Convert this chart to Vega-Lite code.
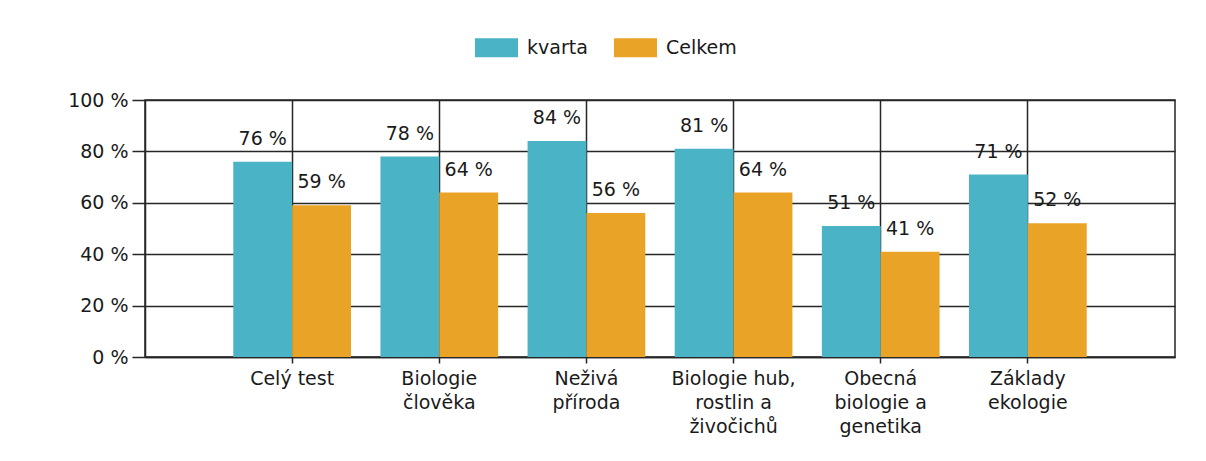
{
  "$schema": "https://vega.github.io/schema/vega-lite/v6.json",
  "width": 1030,
  "height": 257,
  "autosize": {"type": "none"},
  "padding": {"left": 145, "top": 100, "right": 31, "bottom": 104},
  "background": "white",
  "config": {
    "font": "DejaVu Sans",
    "view": {"stroke": "#262626", "strokeWidth": 1.5},
    "axis": {"labelFont": "DejaVu Sans", "labelFontSize": 19, "labelColor": "#1a1a1a", "domainColor": "#262626", "tickColor": "#262626", "gridColor": "#262626", "gridWidth": 1.5, "domainWidth": 1.5, "tickWidth": 1.5, "gridOpacity": 1}
  },
  "data": {
    "values": [
      {"oblast": "Celý test", "skupina": "kvarta", "hodnota": 76},
      {"oblast": "Celý test", "skupina": "Celkem", "hodnota": 59},
      {"oblast": "Biologie|člověka", "skupina": "kvarta", "hodnota": 78},
      {"oblast": "Biologie|člověka", "skupina": "Celkem", "hodnota": 64},
      {"oblast": "Neživá|příroda", "skupina": "kvarta", "hodnota": 84},
      {"oblast": "Neživá|příroda", "skupina": "Celkem", "hodnota": 56},
      {"oblast": "Biologie hub,|rostlin a|živočichů", "skupina": "kvarta", "hodnota": 81},
      {"oblast": "Biologie hub,|rostlin a|živočichů", "skupina": "Celkem", "hodnota": 64},
      {"oblast": "Obecná|biologie a|genetika", "skupina": "kvarta", "hodnota": 51},
      {"oblast": "Obecná|biologie a|genetika", "skupina": "Celkem", "hodnota": 41},
      {"oblast": "Základy|ekologie", "skupina": "kvarta", "hodnota": 71},
      {"oblast": "Základy|ekologie", "skupina": "Celkem", "hodnota": 52}
    ]
  },
  "encoding": {
    "x": {
      "field": "oblast", "type": "nominal", "sort": null, "title": null,
      "scale": {"paddingInner": 0.2, "paddingOuter": 0.6},
      "axis": {"grid": true, "labelAngle": 0, "labelExpr": "split(datum.label, '|')", "labelLineHeight": 24, "labelPadding": 6, "tickSize": 6, "labelBaseline": "top"}
    },
    "xOffset": {"field": "skupina", "type": "nominal", "sort": ["kvarta", "Celkem"], "scale": {"paddingInner": 0, "paddingOuter": 0}},
    "y": {
      "field": "hodnota", "type": "quantitative", "title": null,
      "scale": {"domain": [0, 100], "nice": false},
      "axis": {"values": [0, 20, 40, 60, 80, 100], "labelExpr": "datum.value + ' %'", "tickSize": 13, "labelPadding": 4, "grid": true}
    }
  },
  "layer": [
    {
      "mark": {"type": "bar"},
      "encoding": {
        "color": {
          "field": "skupina", "type": "nominal",
          "scale": {"domain": ["kvarta", "Celkem"], "range": ["#4BB3C6", "#E9A326"]},
          "legend": {
            "title": null, "orient": "none", "direction": "horizontal",
            "legendX": 330, "legendY": -74,
            "symbolType": "M-1,-0.44L1,-0.44L1,0.44L-1,0.44Z",
            "symbolSize": 1849, "symbolStrokeWidth": 0,
            "labelFont": "DejaVu Sans", "labelFontSize": 19, "labelColor": "#1a1a1a",
            "labelOffset": 9, "columnPadding": 26
          }
        }
      }
    },
    {
      "mark": {"type": "text", "baseline": "alphabetic", "dy": -17, "fontSize": 19, "font": "DejaVu Sans", "color": "#1a1a1a", "text": {"expr": "datum.hodnota + ' %'"}},
      "encoding": {
        "detail": {"field": "skupina"}
      }
    }
  ]
}
